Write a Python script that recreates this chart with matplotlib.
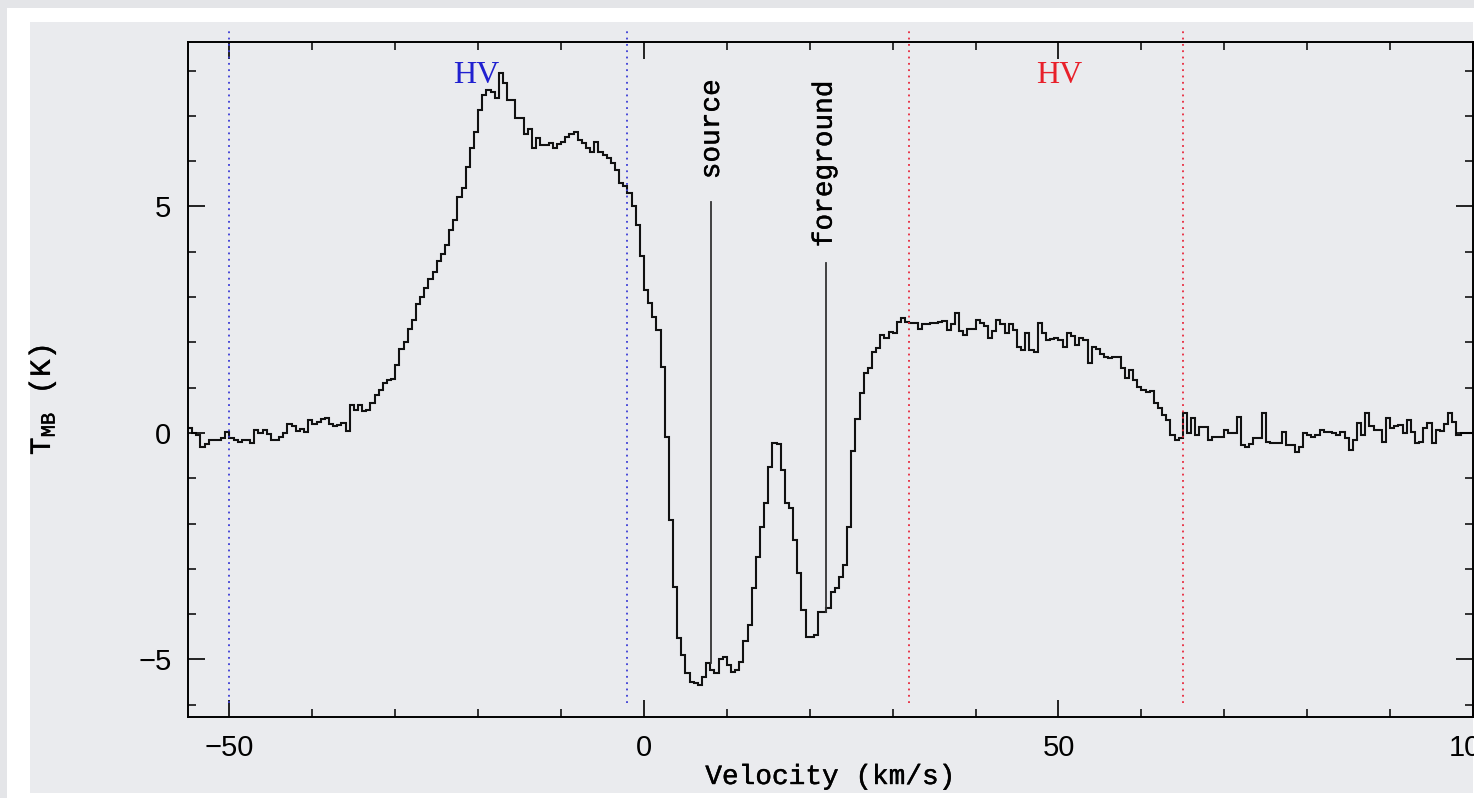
import numpy as np
import matplotlib
matplotlib.use("Agg")
import matplotlib.pyplot as plt
import matplotlib.patheffects as pe
from matplotlib.patches import Rectangle
from matplotlib.ticker import MultipleLocator

plt.rcParams['mathtext.fontset'] = 'custom'
plt.rcParams['mathtext.rm'] = 'Liberation Mono'

# spectrum, 0.5 km/s channels starting at -55 km/s
v_start = -55.0
dv = 0.5

# -55 .. 0 km/s
t_blue = [
    0.1, 0.0, -0.05, -0.3, -0.25, -0.15, -0.15, -0.15, -0.12, 0.02,
    -0.12, -0.15, -0.2, -0.15, -0.15, -0.22, 0.06, 0.0, 0.06, -0.03,
    -0.15, -0.15, -0.08, 0.0, 0.2, 0.15, 0.05, 0.08, 0.03, 0.29,
    0.2, 0.25, 0.3, 0.33, 0.2, 0.15, 0.18, 0.22, 0.05, 0.62,
    0.5, 0.62, 0.48, 0.5, 0.67, 0.84, 0.95, 1.1, 1.17, 1.2,
    1.5, 1.85, 2.0, 2.3, 2.5, 2.85, 3.0, 3.2, 3.4, 3.55,
    3.8, 3.95, 4.15, 4.48, 4.7, 5.2, 5.4, 5.87, 6.3, 6.64,
    7.13, 7.45, 7.57, 7.53, 7.4, 7.95, 7.73, 7.35, 7.35, 6.95,
    6.95, 6.6, 6.7, 6.3, 6.5, 6.36, 6.35, 6.4, 6.3, 6.38,
    6.42, 6.53, 6.6, 6.65, 6.47, 6.4, 6.3, 6.2, 6.42, 6.2,
    6.13, 6.07, 5.96, 5.8, 5.52, 5.45, 5.3, 5.0, 4.6, 3.9,
]
# 0 .. 30 km/s (absorption)
t_abs = [
    3.16, 2.87, 2.56, 2.27, 1.46, -0.09, -1.92, -3.4, -4.53, -4.9,
    -5.3, -5.5, -5.52, -5.56, -5.38, -5.08, -5.23, -5.3, -5.0, -4.94,
    -5.12, -5.27, -5.23, -5.05, -4.6, -4.24, -3.42, -2.74, -2.07, -1.55,
    -0.75, -0.22, -0.24, -0.82, -1.55, -1.66, -2.36, -3.1, -3.9, -4.5,
    -4.5, -4.45, -3.95, -3.95, -3.86, -3.5, -3.42, -3.18, -2.91, -2.07,
    -0.4, 0.3, 0.88, 1.32, 1.43, 1.79, 1.88, 2.16, 2.1, 2.23,
]
# 30 .. 100 km/s
t_red = [
    2.2, 2.45, 2.54, 2.45, 2.43, 2.43, 2.3, 2.4, 2.4, 2.43,
    2.43, 2.45, 2.47, 2.27, 2.4, 2.65, 2.25, 2.16, 2.3, 2.3,
    2.5, 2.43, 2.35, 2.1, 2.25, 2.5, 2.4, 2.2, 2.4, 2.28,
    1.9, 1.83, 2.2, 1.83, 1.79, 2.43, 2.2, 2.05, 2.07, 2.1,
    2.05, 1.9, 2.2, 2.15, 1.95, 2.1, 2.05, 1.55, 1.9, 1.85,
    1.75, 1.68, 1.65, 1.68, 1.68, 1.43, 1.21, 1.4, 1.17, 1.02,
    0.95, 0.9, 0.92, 0.66, 0.55, 0.4, 0.29, -0.04, -0.15, -0.12,
    0.44, 0.0, 0.33, -0.04, 0.13, 0.13, -0.15, -0.08, -0.08, -0.08,
    0.07, 0.0, 0.0, 0.36, -0.26, -0.3, -0.25, -0.12, -0.12, 0.44,
    -0.19, -0.23, -0.23, -0.23, 0.03, -0.26, -0.26, -0.41, -0.3, 0.0,
    -0.05, -0.08, -0.05, 0.07, 0.03, 0.03, 0.0, -0.04, 0.03, -0.12,
    -0.37, -0.15, 0.21, -0.04, 0.44, 0.15, 0.07, 0.07, -0.19, 0.33,
    0.11, 0.15, 0.18, 0.0, 0.29, 0.03, -0.23, -0.2, 0.11, 0.21,
    -0.23, 0.07, 0.05, 0.2, 0.44, 0.25, -0.05, 0.0, 0.0, 0.0,
]

blue_hv = [-50.0, -2.0]
red_hv = [32.0, 65.0]
source_v = 8.1
foreground_v = 22.0

tmb = np.array(t_blue + t_abs + t_red)
edges = v_start + dv * np.arange(len(tmb) + 1)

W, H = 1483, 798
fig = plt.figure(figsize=(W / 100, H / 100), dpi=100)
fig.patch.set_facecolor('white')


def px_rect(x0, y0, x1, y1, color, z):
    r = Rectangle((x0 / W, 1 - y1 / H), (x1 - x0) / W, (y1 - y0) / H,
                  transform=fig.transFigure, facecolor=color,
                  edgecolor='none', zorder=z)
    fig.add_artist(r)


# slide background bits
px_rect(0, 0, W, 8, '#e4e5e8', -2)
px_rect(0, 0, 7, H, '#e4e5e8', -2)
px_rect(30, 22, 1473, 793, '#eaebee', -1)

# slightly thicker strokes for the typewriter labels
thick = [pe.withStroke(linewidth=0.3, foreground='black')]

ax = fig.add_axes([188 / W, 1 - 717 / H, 1285 / W, 675 / H])
ax.set_facecolor('none')

ax.stairs(tmb, edges, baseline=None, color='#111111', lw=1.5)

ax.set_xlim(-55, 100)
ax.set_ylim(-6.27, 8.63)

for v in blue_hv:
    ax.plot([v, v], [-5.95, 8.95], color='#3b3bd6', lw=1.3,
            ls=(0, (1, 2.5)), clip_on=False)
for v in red_hv:
    ax.plot([v, v], [-5.95, 8.95], color='#e8283c', lw=1.3,
            ls=(0, (1, 2.5)), clip_on=False)

ax.text(-20.2, 7.9, 'HV', color='#2020d0', fontsize=23,
        family='Liberation Serif', ha='center', va='center')
ax.text(50.1, 7.9, 'HV', color='#e8202a', fontsize=23,
        family='Liberation Serif', ha='center', va='center')

ax.plot([source_v, source_v], [5.1, -5.08], color='#333333', lw=1.3)
ax.plot([foreground_v, foreground_v], [3.76, -3.95], color='#333333', lw=1.3)
ax.text(source_v + 0.1, 5.6, 'source', rotation=90, fontsize=20,
        family='Liberation Mono', ha='center', va='bottom',
        path_effects=thick)
ax.text(foreground_v - 0.2, 4.1, 'foreground', rotation=90, fontsize=20,
        family='Liberation Mono', ha='center', va='bottom',
        path_effects=thick)

ax.xaxis.set_major_locator(MultipleLocator(50))
ax.xaxis.set_minor_locator(MultipleLocator(10))
ax.yaxis.set_major_locator(MultipleLocator(5))
ax.yaxis.set_minor_locator(MultipleLocator(1))
ax.tick_params(which='both', direction='in', top=True, right=True)
ax.tick_params(which='major', length=12, width=1.2, pad=12, labelsize=21)
ax.tick_params(which='minor', length=6, width=1.1)
for lab in ax.get_xticklabels() + ax.get_yticklabels():
    lab.set_family('Liberation Sans')
for s in ax.spines.values():
    s.set_linewidth(1.4)

fig.text(830 / W, 1 - 777 / H, 'Velocity (km/s)', fontsize=20,
         family='Liberation Mono', ha='center', va='center',
         path_effects=thick)
fig.text(42 / W, 1 - 400 / H, r'T$_{\rm MB}$ (K)', fontsize=21,
         family='Liberation Mono', rotation=90, ha='center', va='center',
         path_effects=thick)

# screenshot is cut at the right edge
px_rect(1474, 0, W, H, 'white', 10)

fig.savefig('out.png', dpi=100)
